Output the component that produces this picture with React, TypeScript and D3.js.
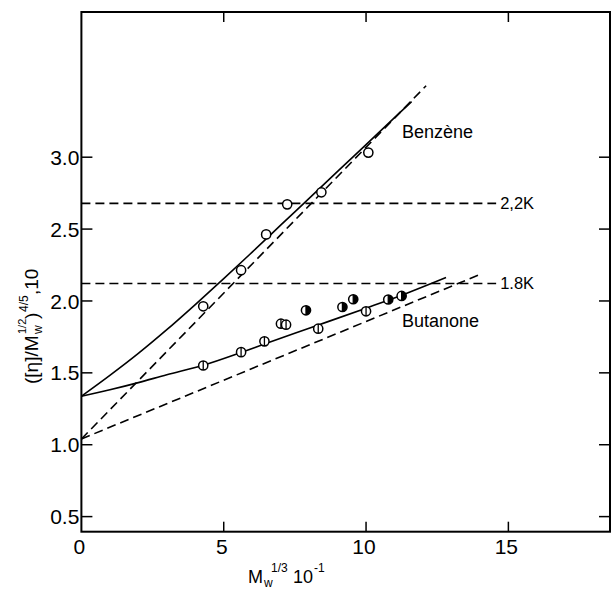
import * as d3 from "d3";

// values
const benzeneX = [4.28, 5.61, 6.49, 7.23, 8.43, 10.08];
const benzeneY = [1.963, 2.214, 2.463, 2.672, 2.756, 3.032];

const butanoneX = [4.28, 5.61, 6.43, 7.01, 7.19, 7.89, 8.32, 9.17, 9.55, 10.0, 10.78, 11.25];
const butanoneY = [1.551, 1.644, 1.719, 1.842, 1.835, 1.935, 1.807, 1.958, 2.012, 1.928, 2.01, 2.035];
const butanoneDark = [0, 0, 0, 0, 0, 1, 0, 1, 1, 0, 1, 1];

// fitted curves (solid)
const benzeneFitX = [0, 1, 2, 3, 4, 5, 6, 7, 8, 9, 10, 11, 11.6];
const benzeneFitY = [1.337, 1.482, 1.635, 1.8, 1.975, 2.155, 2.34, 2.527, 2.714, 2.901, 3.088, 3.275, 3.387];
const butanoneFitX = [0, 1, 2, 3, 4.28, 5.61, 6.43, 8, 10, 11.25, 12.81];
const butanoneFitY = [1.337, 1.382, 1.432, 1.487, 1.553, 1.642, 1.7, 1.81, 1.95, 2.04, 2.163];

// limiting lines (dashed)
const benzeneLimX = [0, 12.11];
const benzeneLimY = [1.04, 3.497];
const butanoneLimX = [0, 13.95];
const butanoneLimY = [1.04, 2.18];

const thetaLevels = [2.679, 2.121];
const thetaLabels = ["2,2K", "1.8K"];
const thetaEnd = 14.57;

const xTicks = [0, 5, 10, 15];
const yTicks = [0.5, 1.0, 1.5, 2.0, 2.5, 3.0];

const W = 611;
const H = 590;

const x = d3.scaleLinear().domain([0, 18.57]).range([81.4, 610]);
const y = d3.scaleLinear().domain([0.395, 4.01]).range([531.7, 12]);

const line = d3
  .line<[number, number]>()
  .x((d) => x(d[0]))
  .y((d) => y(d[1]));
const curve = d3
  .line<[number, number]>()
  .x((d) => x(d[0]))
  .y((d) => y(d[1]))
  .curve(d3.curveMonotoneX);

const zip = (a: number[], b: number[]): [number, number][] => a.map((v, i) => [v, b[i]]);

const font = "'Liberation Sans', Arial, sans-serif";

export default function App() {
  const [x0, x1] = x.range();
  const [yb, yt] = y.range();
  const dash = "9 5";
  const semi = d3.arc()({ innerRadius: 0, outerRadius: 4.6, startAngle: 0, endAngle: Math.PI }) ?? "";

  return (
    <svg
      width={W}
      height={H}
      viewBox={`0 0 ${W} ${H}`}
      style={{ position: "absolute", left: 0, top: 0, background: "#fff" }}
    >
      {/* frame */}
      <rect x={x0} y={yt} width={x1 - x0} height={yb - yt} fill="none" stroke="#000" strokeWidth={2} />

      {/* y ticks, both sides */}
      {yTicks.map((t) => (
        <g key={t}>
          <line x1={x0} x2={x0 + 11} y1={y(t)} y2={y(t)} stroke="#000" strokeWidth={1.5} />
          <line x1={x1} x2={x1 - 11} y1={y(t)} y2={y(t)} stroke="#000" strokeWidth={1.5} />
          <text x={x0 - 2} y={y(t)} dy="0.36em" textAnchor="end" fontFamily={font} fontSize={21}>
            {t.toFixed(1)}
          </text>
        </g>
      ))}

      {/* x ticks, bottom and top */}
      {xTicks.map((t) => (
        <g key={t}>
          {t > 0 && (
            <>
              <line x1={x(t)} x2={x(t)} y1={yb} y2={yb - 10} stroke="#000" strokeWidth={1.5} />
              <line x1={x(t)} x2={x(t)} y1={yt} y2={yt + 10} stroke="#000" strokeWidth={1.5} />
            </>
          )}
          <text x={x(t) - 2} y={554} textAnchor="middle" fontFamily={font} fontSize={21}>
            {t}
          </text>
        </g>
      ))}

      {/* theta-temperature lines */}
      {thetaLevels.map((v, i) => (
        <g key={v}>
          <path
            d={line([[0, v], [thetaEnd, v]]) ?? ""}
            fill="none"
            stroke="#000"
            strokeWidth={1.6}
            strokeDasharray={dash}
          />
          <text x={x(thetaEnd) + 4} y={y(v)} dy="0.35em" fontFamily={font} fontSize={16.5}>
            {thetaLabels[i]}
          </text>
        </g>
      ))}

      {/* dashed limiting lines */}
      {[zip(benzeneLimX, benzeneLimY), zip(butanoneLimX, butanoneLimY)].map((pts, i) => (
        <path key={i} d={line(pts) ?? ""} fill="none" stroke="#000" strokeWidth={1.6} strokeDasharray={dash} />
      ))}

      {/* solid fitted curves */}
      {[zip(benzeneFitX, benzeneFitY), zip(butanoneFitX, butanoneFitY)].map((pts, i) => (
        <path key={i} d={curve(pts) ?? ""} fill="none" stroke="#000" strokeWidth={1.6} />
      ))}

      {/* benzene points */}
      {benzeneX.map((v, i) => (
        <circle key={i} cx={x(v)} cy={y(benzeneY[i])} r={4.6} fill="#fff" stroke="#000" strokeWidth={1.5} />
      ))}

      {/* butanone points */}
      {butanoneX.map((v, i) => (
        <g key={i} transform={`translate(${x(v)},${y(butanoneY[i])})`}>
          <circle r={4.6} fill="#fff" stroke="#000" strokeWidth={1.5} />
          {butanoneDark[i] ? <path d={semi} fill="#000" /> : null}
          <line x1={0} x2={0} y1={-4.6} y2={4.6} stroke="#000" strokeWidth={1.3} />
        </g>
      ))}

      <text x={402} y={138} fontFamily={font} fontSize={18}>
        Benzène
      </text>
      <text x={402} y={327} fontFamily={font} fontSize={18}>
        Butanone
      </text>

      {/* x axis title */}
      <g fontFamily={font}>
        <text x={248} y={583} fontSize={18}>M</text>
        <text x={264} y={587} fontSize={12}>w</text>
        <text x={271} y={572} fontSize={12}>1/3</text>
        <text x={293} y={583} fontSize={18}>10</text>
        <text x={314} y={572} fontSize={12}>-1</text>
      </g>

      {/* y axis title */}
      <g fontFamily={font} transform="translate(38,384) rotate(-90)">
        <text x={0} y={0} fontSize={19}>([η]/M</text>
        <text x={50} y={4} fontSize={12}>w</text>
        <text x={50} y={-12} fontSize={11}>1/2</text>
        <text x={65} y={0} fontSize={19}>)</text>
        <text x={72} y={-10} fontSize={12}>4/5</text>
        <text x={89} y={0} fontSize={19}>,10</text>
      </g>
    </svg>
  );
}
